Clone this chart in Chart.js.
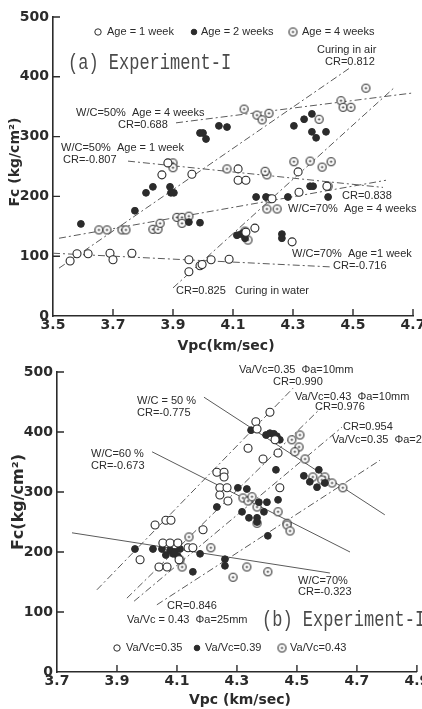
<!DOCTYPE html>
<html>
<head>
<meta charset="utf-8">
<script src="https://cdn.jsdelivr.net/npm/chart.js@4.4.1/dist/chart.umd.min.js"></script>
<style>
  html, body { margin: 0; padding: 0; background: #fff; }
  body { width: 422px; height: 709px; position: relative; overflow: hidden; }
  canvas { position: absolute; left: 0; }
  #grafico-a { top: 0; }
  #grafico-b { top: 355px; }
</style>
</head>
<body>
<canvas id="grafico-a" width="422" height="355"></canvas>
<canvas id="grafico-b" width="422" height="354"></canvas>
<script>
// tick labels
const ticksVpcA = [3.5, 3.7, 3.9, 4.1, 4.3, 4.5, 4.7];
const ticksVpcB = [3.7, 3.9, 4.1, 4.3, 4.5, 4.7, 4.9];
const ticksFc = [0, 100, 200, 300, 400, 500];

// (a) Experiment-I : Age = 1 week
const age1Vpc = [3.557, 3.58, 3.617, 3.69, 3.70, 3.763, 3.953, 3.953, 3.99, 3.997, 4.027, 4.087, 3.863, 3.963, 4.117, 4.143, 4.117, 4.317, 4.32, 4.413, 4.297, 4.173, 3.883, 4.23, 4.143];
const age1Fc  = [92, 104, 104, 105, 94, 105, 94, 74, 84, 86, 94, 95, 236, 237, 227, 227, 246, 241, 207, 217, 124, 147, 256, 196, 140];
// Age = 2 weeks
const age2Vpc = [3.593, 3.773, 3.81, 3.833, 3.89, 3.893, 3.903, 3.953, 3.99, 4.177, 4.21, 4.283, 4.357, 4.367, 4.417, 4.113, 4.127, 4.14, 4.137, 4.263, 4.263, 3.99, 4.0, 4.01, 4.053, 4.08, 4.303, 4.337, 4.363, 4.363, 4.377, 4.41];
const age2Fc  = [154, 176, 206, 216, 216, 206, 206, 157, 156, 199, 199, 199, 217, 217, 199, 135, 137, 130, 140, 137, 130, 306, 306, 296, 318, 316, 318, 329, 338, 308, 298, 308];
// Age = 4 weeks
const age4Vpc = [3.653, 3.68, 3.73, 3.743, 3.833, 3.85, 3.857, 3.913, 3.93, 3.953, 3.93, 4.213, 4.247, 4.213, 4.22, 4.417, 4.137, 4.18, 4.197, 4.22, 4.46, 4.467, 4.493, 4.543, 4.387, 4.397, 4.303, 4.357, 4.427, 3.9, 3.9, 4.08, 4.207, 4.15, 4.14];
const age4Fc  = [144, 144, 144, 144, 145, 145, 155, 165, 165, 167, 155, 179, 179, 236, 196, 217, 346, 336, 328, 339, 360, 349, 349, 381, 329, 249, 258, 259, 258, 256, 248, 246, 242, 127, 142];

// (a) regression lines (end points)
const airVpc = [3.52, 4.49],  airFc = [80, 415];      // Curing in air CR=0.812
const waterVpc = [3.90, 4.64], waterFc = [47, 383];   // Curing in water CR=0.825
const wc50w4Vpc = [3.91, 4.70], wc50w4Fc = [323, 373]; // CR=0.688
const wc50w1Vpc = [3.75, 4.60], wc50w1Fc = [259, 215]; // CR=-0.807
const wc70w4Vpc = [3.52, 4.61], wc70w4Fc = [130, 227]; // CR=0.838
const wc70w1Vpc = [3.50, 4.43], wc70w1Fc = [105, 82];  // CR=-0.716

// (b) Experiment-II : Va/Vc = 0.35
const va35Vpc = [4.41, 4.363, 4.367, 4.337, 4.387, 4.233, 4.257, 4.257, 4.243, 4.267, 4.243, 4.27, 4.443, 4.427, 4.437, 4.027, 4.063, 4.08, 3.977, 4.04, 4.067, 4.053, 4.077, 4.103, 4.107, 4.137, 4.153, 4.187];
const va35Fc  = [433, 417, 405, 373, 355, 333, 333, 325, 307, 307, 295, 285, 307, 387, 365, 245, 253, 253, 187, 175, 175, 215, 215, 215, 187, 207, 207, 237];
// Va/Vc = 0.39
const va39Vpc = [4.347, 4.397, 4.41, 4.423, 4.433, 4.443, 4.43, 4.303, 4.333, 4.233, 4.317, 4.34, 4.367, 4.39, 4.373, 4.4, 4.437, 4.523, 4.543, 4.573, 4.567, 4.593, 3.96, 4.02, 4.05, 4.063, 4.077, 4.087, 4.093, 4.103, 4.11, 4.153, 4.177, 4.26, 4.26, 4.403, 4.367];
const va39Fc  = [403, 395, 398, 397, 393, 387, 337, 307, 305, 275, 267, 257, 257, 267, 283, 283, 287, 327, 317, 337, 308, 315, 205, 205, 205, 195, 203, 197, 200, 193, 205, 167, 197, 188, 177, 227, 250];
// Va/Vc = 0.43
const va43Vpc = [4.51, 4.483, 4.507, 4.493, 4.527, 4.553, 4.593, 4.617, 4.583, 4.653, 4.32, 4.337, 4.367, 4.437, 4.467, 4.367, 4.213, 4.14, 4.117, 4.287, 4.333, 4.403, 4.467, 4.477, 4.35, 4.11];
const va43Fc  = [395, 387, 375, 367, 355, 325, 325, 315, 320, 307, 290, 285, 275, 267, 248, 248, 207, 225, 175, 158, 175, 167, 245, 235, 292, 187];

// (b) regression lines (end points)
const r990Vpc = [3.833, 4.487], r990Fc = [137, 473];
const r976Vpc = [3.933, 4.58],  r976Fc = [123, 440];
const r954Vpc = [3.957, 4.65],  r954Fc = [118, 408];
const r846Vpc = [4.033, 4.777], r846Fc = [112, 353];
const wc50Vpc = [4.19, 4.793],  wc50Fc = [458, 262];
const wc60Vpc = [4.017, 4.677], wc60Fc = [367, 200];
const wc70Vpc = [3.75, 4.61],   wc70Fc = [232, 165];

const INK = "#2b2b2b";
const LINE = "#5a5a5a";
const DASHDOT = [7, 3, 2, 3];
const LABEL_FONT = "11px 'Liberation Sans'";
const TICK_FONT = { family: "'DejaVu Sans'", size: 14, weight: "bold" };
const TITLE_FONT = "bold 14px 'DejaVu Sans'";
const MONO_FONT = "17px 'Liberation Mono'";

function pares(xs, ys) {
  return xs.map((x, i) => ({ x: x, y: ys[i] }));
}

// circle with a dot in the middle (Age = 4 weeks / Va/Vc = 0.43)
function circuloPontuado() {
  const c = document.createElement("canvas");
  c.width = 11;
  c.height = 11;
  const g = c.getContext("2d");
  g.fillStyle = "#fff";
  g.strokeStyle = INK;
  g.lineWidth = 1.1;
  g.beginPath();
  g.arc(5.5, 5.5, 4, 0, Math.PI * 2);
  g.fill();
  g.stroke();
  g.fillStyle = INK;
  g.beginPath();
  g.arc(5.5, 5.5, 1.1, 0, Math.PI * 2);
  g.fill();
  return c;
}
const PONTUADO = circuloPontuado();

function serieAberta(label, data) {
  return { label, data, pointStyle: "circle", pointRadius: 4, borderColor: INK, backgroundColor: "#fff", borderWidth: 1.1, order: 0 };
}
function serieCheia(label, data) {
  return { label, data, pointStyle: "circle", pointRadius: 3.4, borderColor: INK, backgroundColor: INK, borderWidth: 1, order: 0 };
}
function seriePontuada(label, data) {
  return { label, data, pointStyle: PONTUADO, pointRadius: 4, order: 0 };
}
function reta(xs, ys, dash) {
  return { data: pares(xs, ys), showLine: true, pointRadius: 0, borderColor: LINE, borderWidth: 1, borderDash: dash || [], fill: false, order: 1 };
}

function escalas(ticksX, minX, maxX, alturaX, larguraY) {
  return {
    x: {
      type: "linear", min: minX, max: maxX,
      afterBuildTicks: (s) => { s.ticks = ticksX.map((v) => ({ value: v })); },
      afterFit: (s) => { s.height = alturaX; s.paddingLeft = 0; s.paddingRight = 0; },
      grid: { display: false, drawTicks: false },
      border: { display: true, color: INK, width: 1.6 },
      ticks: { color: INK, font: TICK_FONT, padding: 1, maxRotation: 0, autoSkip: false, callback: (v) => Number(v).toFixed(1) },
    },
    y: {
      type: "linear", min: 0, max: 500,
      afterBuildTicks: (s) => { s.ticks = ticksFc.map((v) => ({ value: v })); },
      afterFit: (s) => { s.width = larguraY; s.paddingTop = 0; s.paddingBottom = 0; },
      grid: { display: false, drawTicks: false },
      border: { display: true, color: INK, width: 1.6 },
      ticks: { color: INK, font: TICK_FONT, padding: 4, callback: (v) => String(v) },
    },
  };
}

function marcasInternas(chart, xs, ys, len) {
  const ctx = chart.ctx, sx = chart.scales.x, sy = chart.scales.y, a = chart.chartArea;
  ctx.save();
  ctx.strokeStyle = INK;
  ctx.lineWidth = 1.4;
  ctx.beginPath();
  xs.forEach((v) => { const p = sx.getPixelForValue(v); ctx.moveTo(p, a.bottom); ctx.lineTo(p, a.bottom - len); });
  ys.forEach((v) => { const p = sy.getPixelForValue(v); ctx.moveTo(a.left, p); ctx.lineTo(a.left + len, p); });
  ctx.stroke();
  ctx.restore();
}

function texto(ctx, s, x, y, font, align) {
  ctx.font = font;
  ctx.textAlign = align || "left";
  ctx.textBaseline = "middle";
  ctx.fillText(s, x, y);
}

function tituloMono(ctx, s, x, y) {
  ctx.save();
  ctx.fillStyle = "#4a4a4a";
  ctx.translate(x, y);
  ctx.scale(1, 1.3);
  texto(ctx, s, 0, 0, MONO_FONT, "left");
  ctx.restore();
}

function simbolo(ctx, tipo, x, y) {
  ctx.save();
  ctx.strokeStyle = INK;
  ctx.fillStyle = tipo === "cheio" ? INK : "#fff";
  ctx.lineWidth = 1;
  if (tipo === "pontuado") {
    ctx.drawImage(PONTUADO, x - 5.5, y - 5.5);
  } else {
    ctx.beginPath();
    ctx.arc(x, y, tipo === "cheio" ? 2.8 : 3.2, 0, Math.PI * 2);
    ctx.fill();
    ctx.stroke();
  }
  ctx.restore();
}

function tituloY(ctx, s, x, y, font) {
  ctx.save();
  ctx.translate(x, y);
  ctx.rotate(-Math.PI / 2);
  texto(ctx, s, 0, 0, font, "center");
  ctx.restore();
}

// (a) Experiment-I
function gerarGraficoA() {
  const ctx = document.getElementById("grafico-a").getContext("2d");
  const decor = {
    id: "decorA",
    afterDraw(chart) {
      const c = chart.ctx;
      marcasInternas(chart, ticksVpcA.slice(1), ticksFc.slice(1), 7);
      c.save();
      c.fillStyle = INK;
      simbolo(c, "aberto", 98, 32);
      texto(c, "Age = 1 week", 107, 32, LABEL_FONT);
      simbolo(c, "cheio", 194, 32);
      texto(c, "Age = 2 weeks", 201, 32, LABEL_FONT);
      simbolo(c, "pontuado", 293, 32);
      texto(c, "Age = 4 weeks", 302, 32, LABEL_FONT);
      tituloMono(c, "(a) Experiment-I", 68, 63);
      texto(c, "Curing in air", 317, 50, LABEL_FONT);
      texto(c, "CR=0.812", 325, 62, LABEL_FONT);
      texto(c, "W/C=50%  Age = 4 weeks", 76, 113, LABEL_FONT);
      texto(c, "CR=0.688", 118, 125, LABEL_FONT);
      texto(c, "W/C=50%  Age = 1 week", 61, 148, LABEL_FONT);
      texto(c, "CR=-0.807", 63, 160, LABEL_FONT);
      texto(c, "CR=0.838", 342, 196, LABEL_FONT);
      texto(c, "W/C=70%  Age = 4 weeks", 288, 209, LABEL_FONT);
      texto(c, "W/C=70%  Age =1 week", 292, 254, LABEL_FONT);
      texto(c, "CR=-0.716", 333, 266, LABEL_FONT);
      texto(c, "CR=0.825   Curing in water", 176, 291, LABEL_FONT);
      texto(c, "Vpc(km/sec)", 226, 346, TITLE_FONT, "center");
      tituloY(c, "Fc (kg/cm²)", 15, 162, TITLE_FONT);
      c.restore();
    },
  };
  new Chart(ctx, {
    type: "scatter",
    data: {
      datasets: [
        serieAberta("Age = 1 week", pares(age1Vpc, age1Fc)),
        serieCheia("Age = 2 weeks", pares(age2Vpc, age2Fc)),
        seriePontuada("Age = 4 weeks", pares(age4Vpc, age4Fc)),
        reta(airVpc, airFc, DASHDOT),
        reta(waterVpc, waterFc, DASHDOT),
        reta(wc50w4Vpc, wc50w4Fc, DASHDOT),
        reta(wc50w1Vpc, wc50w1Fc, DASHDOT),
        reta(wc70w4Vpc, wc70w4Fc, DASHDOT),
        reta(wc70w1Vpc, wc70w1Fc, DASHDOT),
      ],
    },
    options: {
      responsive: false,
      animation: false,
      devicePixelRatio: 1,
      layout: { padding: { top: 17, right: 9, left: 0, bottom: 0 } },
      plugins: { legend: { display: false }, tooltip: { enabled: false } },
      scales: escalas(ticksVpcA, 3.5, 4.7, 39, 53),
    },
    plugins: [decor],
  });
}

// (b) Experiment-II
function gerarGraficoB() {
  const ctx = document.getElementById("grafico-b").getContext("2d");
  const decor = {
    id: "decorB",
    afterDraw(chart) {
      const c = chart.ctx;
      marcasInternas(chart, ticksVpcB.slice(1), ticksFc.slice(1), 7);
      c.save();
      c.fillStyle = INK;
      texto(c, "Va/Vc=0.35  Φa=10mm", 239, 15, LABEL_FONT);
      texto(c, "CR=0.990", 273, 27, LABEL_FONT);
      texto(c, "Va/Vc=0.43  Φa=10mm", 295, 42, LABEL_FONT);
      texto(c, "CR=0.976", 315, 52, LABEL_FONT);
      texto(c, "CR=0.954", 343, 72, LABEL_FONT);
      texto(c, "Va/Vc=0.35  Φa=25mm", 332, 85, LABEL_FONT);
      texto(c, "W/C = 50 %", 137, 46, LABEL_FONT);
      texto(c, "CR=-0.775", 137, 58, LABEL_FONT);
      texto(c, "W/C=60 %", 91, 99, LABEL_FONT);
      texto(c, "CR=-0.673", 91, 111, LABEL_FONT);
      texto(c, "W/C=70%", 298, 226, LABEL_FONT);
      texto(c, "CR=-0.323", 298, 237, LABEL_FONT);
      texto(c, "CR=0.846", 167, 251, LABEL_FONT);
      texto(c, "Va/Vc = 0.43  Φa=25mm", 127, 265, LABEL_FONT);
      tituloMono(c, "(b) Experiment-II", 262, 265);
      simbolo(c, "aberto", 117, 293);
      texto(c, "Va/Vc=0.35", 126, 293, LABEL_FONT);
      simbolo(c, "cheio", 197, 293);
      texto(c, "Va/Vc=0.39", 205, 293, LABEL_FONT);
      simbolo(c, "pontuado", 282, 293);
      texto(c, "Va/Vc=0.43", 290, 293, LABEL_FONT);
      texto(c, "Vpc (km/sec)", 240, 345, TITLE_FONT, "center");
      tituloY(c, "Fc(kg/cm²)", 19, 147, "bold 16px 'DejaVu Sans'");
      c.restore();
    },
  };
  new Chart(ctx, {
    type: "scatter",
    data: {
      datasets: [
        serieAberta("Va/Vc=0.35", pares(va35Vpc, va35Fc)),
        serieCheia("Va/Vc=0.39", pares(va39Vpc, va39Fc)),
        seriePontuada("Va/Vc=0.43", pares(va43Vpc, va43Fc)),
        reta(r990Vpc, r990Fc, DASHDOT),
        reta(r976Vpc, r976Fc, DASHDOT),
        reta(r954Vpc, r954Fc, DASHDOT),
        reta(r846Vpc, r846Fc, DASHDOT),
        reta(wc50Vpc, wc50Fc),
        reta(wc60Vpc, wc60Fc),
        reta(wc70Vpc, wc70Fc),
      ],
    },
    options: {
      responsive: false,
      animation: false,
      devicePixelRatio: 1,
      layout: { padding: { top: 17, right: 5, left: 0, bottom: 0 } },
      plugins: { legend: { display: false }, tooltip: { enabled: false } },
      scales: escalas(ticksVpcB, 3.7, 4.9, 37, 57),
    },
    plugins: [decor],
  });
}

gerarGraficoA();
gerarGraficoB();
</script>
</body>
</html>
